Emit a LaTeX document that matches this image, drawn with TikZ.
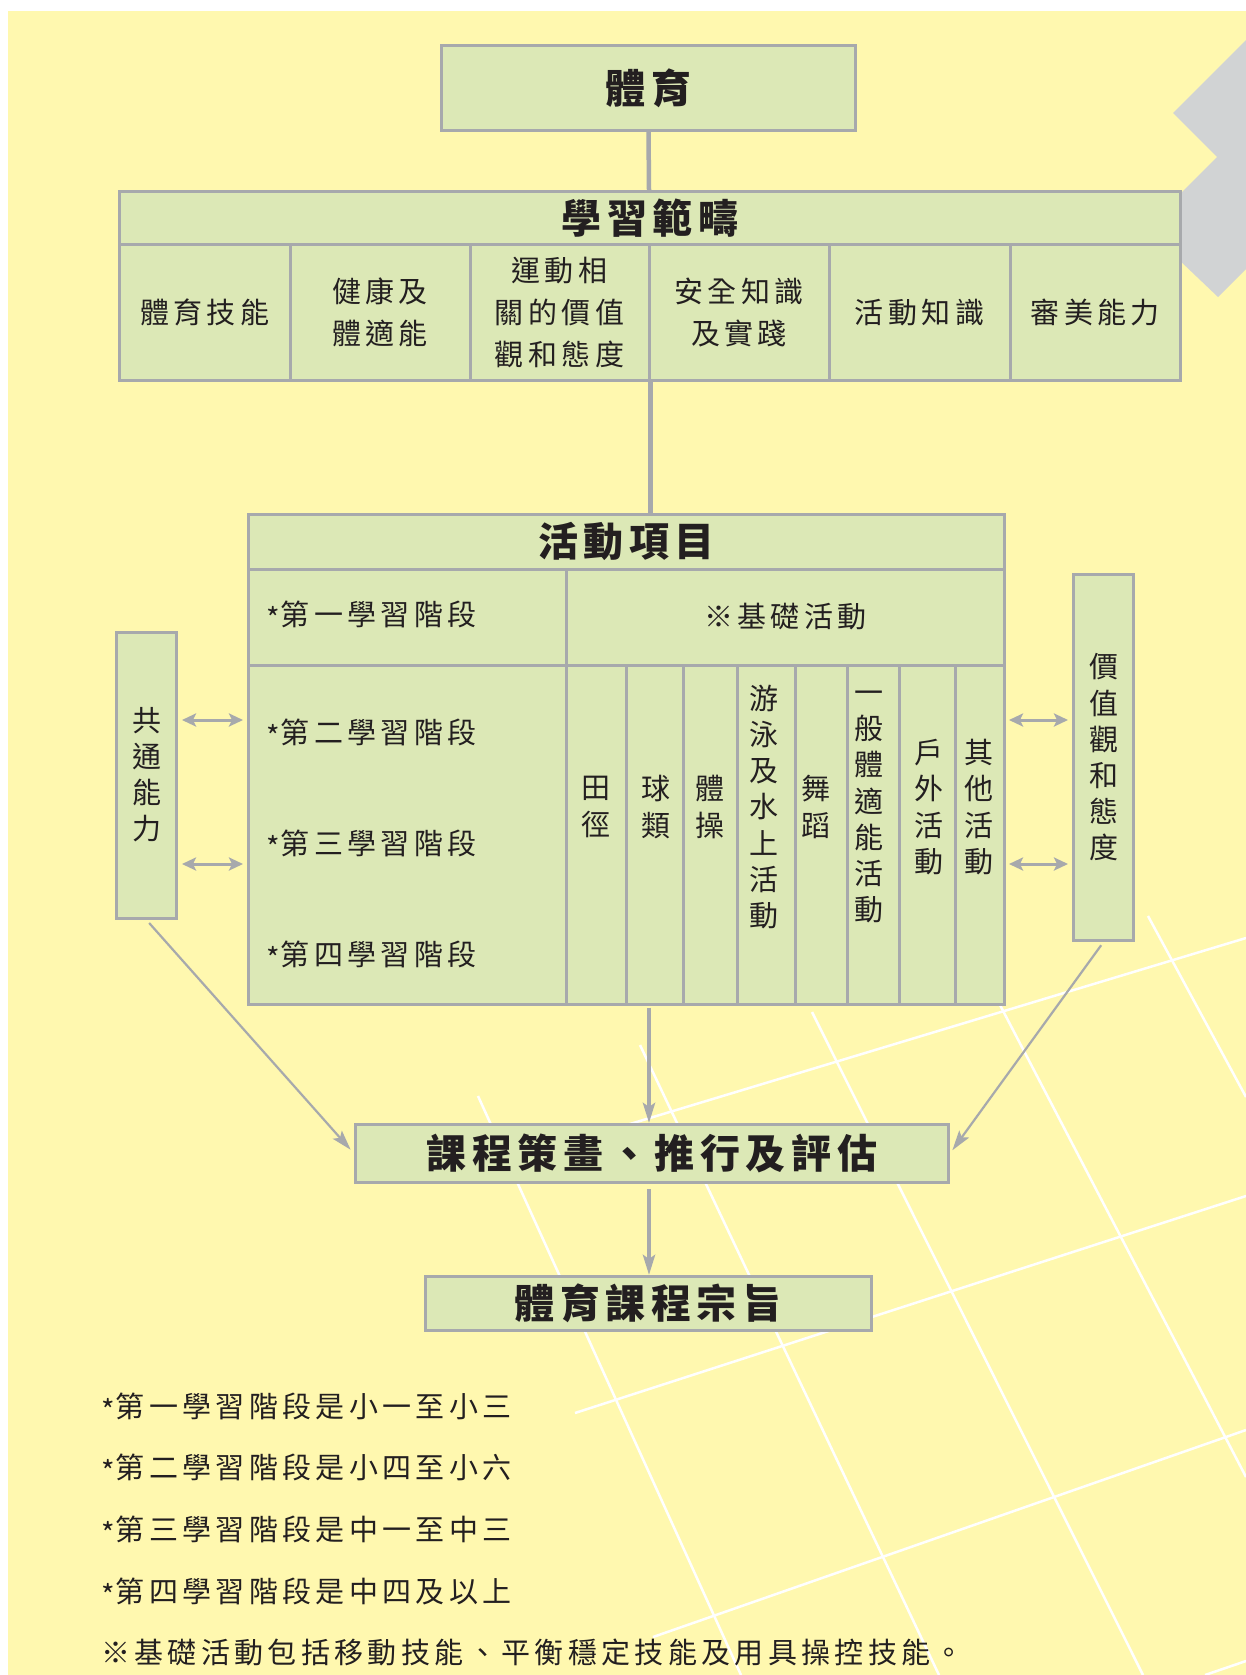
\documentclass[tikz,border=0pt]{standalone}
\usepackage{fontspec}
\usetikzlibrary{arrows.meta}
\newfontfamily\cjk[LetterSpace=15]{Noto Sans CJK TC}
\newfontfamily\cjkv{Noto Sans CJK TC}
\newfontfamily\cjkh[LetterSpace=14]{Noto Sans CJK TC}
\newcommand{\stmark}{\raisebox{-4pt}{\cjkv *}\kern1pt}
\definecolor{bgy}{HTML}{FFF8AF}
\definecolor{boxg}{HTML}{DCE8B6}
\definecolor{lg}{HTML}{A7A9AC}
\definecolor{shp}{HTML}{D1D3D4}
\definecolor{ink}{HTML}{231F20}
\begin{document}
\begin{tikzpicture}[x=1pt,y=-1pt,
  box/.style={draw=lg, fill=boxg, line width=3pt, inner sep=0pt, text=ink},
  hdr/.style={font=\cjkh\bfseries\fontsize{40}{44}\selectfont},
  body/.style={font=\cjk\fontsize{29}{42}\selectfont, align=center, text=ink},
  vt/.style={font=\cjkv\fontsize{29}{36.2}\selectfont, align=center, text=ink, inner sep=0pt},
  conn/.style={draw=lg, line width=4.5pt},
  arr/.style={draw=lg, line width=4pt, -{Stealth[length=20pt,width=12pt,inset=4pt]}},
  darr/.style={draw=lg, line width=3pt, {Stealth[length=14pt,width=13pt,inset=3pt]}-{Stealth[length=14pt,width=13pt,inset=3pt]}},
  diag/.style={draw=lg, line width=2.2pt, -{Stealth[length=20pt,width=12pt,inset=4pt]}},
  gridline/.style={draw=white, line width=2.5pt},
  foot/.style={font=\cjk\fontsize{29}{32}\selectfont, anchor=west, inner sep=0pt, text=ink}
]
\useasboundingbox (0,0) rectangle (1246,1675);
\fill[white] (0,0) rectangle (1246,1675);
\fill[bgy] (8,11) rectangle (1246,1675);
% background grid
\begin{scope}
\clip (8,11) rectangle (1246,1675);
\draw[gridline] (620,1127) -- (1246,938);
\draw[gridline] (575,1413) -- (1246,1196);
\draw[gridline] (653,1637) -- (1246,1430);
\draw[gridline] (1205,1675) -- (1246,1661);
\draw[gridline] (478,1096) -- (741,1675);
\draw[gridline] (640,1045) -- (939,1675);
\draw[gridline] (812,1012) -- (1143,1675);
\draw[gridline] (1000,1005) -- (1246,1477);
\draw[gridline] (1148,916) -- (1246,1097);
\fill[shp] (1246,40) -- (1173,113) -- (1217,157) -- (1176,198) -- (1176,257) -- (1218,297) -- (1246,269) -- cycle;
\end{scope}

\coordinate (mid) at (649,0);
\coordinate (r1) at (0,720);
\coordinate (r2) at (0,864);

% top
\node[box, minimum width=414pt, minimum height=85pt, hdr] (ty) at (648.5,88) {體育};

% learning domains
\node[box, minimum width=1061pt, minimum height=52.5pt, hdr] (lyh) at (650,217.75) {學習範疇};
\node[box, minimum width=170.5pt, minimum height=136.5pt, body] (c1) at (204.75,312.25) {體育技能};
\node[box, minimum width=180pt, minimum height=136.5pt, body] (c2) at (380,312.25) {健康及\\體適能};
\node[box, minimum width=179pt, minimum height=136.5pt, body] (c3) at (559.5,312.25) {運動相\\關的價值\\觀和態度};
\node[box, minimum width=180pt, minimum height=136.5pt, body] (c4) at (739,312.25) {安全知識\\及實踐};
\node[box, minimum width=181pt, minimum height=136.5pt, body] (c5) at (919.5,312.25) {活動知識};
\node[box, minimum width=170.5pt, minimum height=136.5pt, body] (c6) at (1095.25,312.25) {審美能力};

% activities
\node[box, minimum width=756pt, minimum height=54.5pt, hdr] (hd) at (626.5,541.75) {活動項目};
\node[box, minimum width=317.5pt, minimum height=96pt] (s1) at (407.25,617) {};
\node[box, minimum width=438.5pt, minimum height=96pt, body] (base) at (785.25,617) {※基礎活動};
\node[box, minimum width=317.5pt, minimum height=339.5pt] (s234) at (407.25,834.75) {};
\node[box, minimum width=60pt, minimum height=339.5pt] (k1) at (596,834.75) {};
\node[box, minimum width=57pt, minimum height=339.5pt] (k2) at (654.5,834.75) {};
\node[box, minimum width=54pt, minimum height=339.5pt] (k3) at (710,834.75) {};
\node[box, minimum width=58pt, minimum height=339.5pt] (k4) at (766,834.75) {};
\node[box, minimum width=52pt, minimum height=339.5pt] (k5) at (821,834.75) {};
\node[box, minimum width=52pt, minimum height=339.5pt] (k6) at (873,834.75) {};
\node[box, minimum width=56pt, minimum height=339.5pt] (k7) at (927,834.75) {};
\node[box, minimum width=49.5pt, minimum height=339.5pt] (k8) at (979.75,834.75) {};

\node[body, anchor=west, inner sep=0pt] (s1t) at (266,615) {\stmark 第一學習階段};
\node[body, anchor=west, inner sep=0pt] (s2t) at (266,733) {\stmark 第二學習階段};
\node[body, anchor=west, inner sep=0pt] (s3t) at (266,844) {\stmark 第三學習階段};
\node[body, anchor=west, inner sep=0pt] (s4t) at (266,955) {\stmark 第四學習階段};

\node[vt] (v1) at (596,807) {田\\徑};
\node[vt] (v2) at (656,807) {球\\類};
\node[vt] (v3) at (709.5,807) {體\\操};
\node[vt] (v4) at (764,807) {游\\泳\\及\\水\\上\\活\\動};
\node[vt] (v5) at (816,807) {舞\\蹈};
\node[vt] (v6) at (869,807) {一\\般\\體\\適\\能\\活\\動};
\node[vt] (v7) at (929,807) {戶\\外\\活\\動};
\node[vt] (v8) at (979,807) {其\\他\\活\\動};

% side boxes
\node[box, minimum width=60pt, minimum height=286pt] (gt) at (146.5,775.5) {};
\node[vt] (gtt) at (146.5,774.5) {共\\通\\能\\力};
\node[box, minimum width=60pt, minimum height=366pt] (jz) at (1103.5,757.5) {};
\node[vt] (jzt) at (1103.5,757.5) {價\\值\\觀\\和\\態\\度};

% lower boxes
\node[box, minimum width=593pt, minimum height=58pt, hdr] (kc) at (652,1153.5) {課程策畫、推行及評估};
\node[box, minimum width=446pt, minimum height=54pt, hdr] (zz) at (648.5,1303.5) {體育課程宗旨};

% connectors
\draw[conn] (ty.south) -- (mid |- lyh.north);
\draw[conn] (c3.south east) -- (c3.south east |- hd.north);
\draw[arr] (mid |- s234.south) ++(0,1.5) -- (mid |- kc.north);
\draw[arr, shorten <=5pt] (mid |- kc.south) -- (mid |- zz.north);
\draw[darr, shorten <=4pt, shorten >=4pt] (gt.east |- r1) -- (s234.west |- r1);
\draw[darr, shorten <=4pt, shorten >=4pt] (gt.east |- r2) -- (s234.west |- r2);
\draw[darr, shorten <=3pt, shorten >=4pt] (k8.east |- r1) -- (jz.west |- r1);
\draw[darr, shorten <=3pt, shorten >=4pt] (k8.east |- r2) -- (jz.west |- r2);
\draw[diag, shorten <=4pt, shorten >=5pt] (gt.south) -- (kc.west);
\draw[diag, shorten <=4pt, shorten >=4pt] (jz.south) -- (kc.east);

% footnotes
\node[foot] (f1) at (101,1407) {\stmark 第一學習階段是小一至小三};
\node[foot] (f2) at (101,1468) {\stmark 第二學習階段是小四至小六};
\node[foot] (f3) at (101,1530) {\stmark 第三學習階段是中一至中三};
\node[foot] (f4) at (101,1592) {\stmark 第四學習階段是中四及以上};
\node[foot] (f5) at (101,1652) {※基礎活動包括移動技能、平衡穩定技能及用具操控技能。};
\end{tikzpicture}
\end{document}
